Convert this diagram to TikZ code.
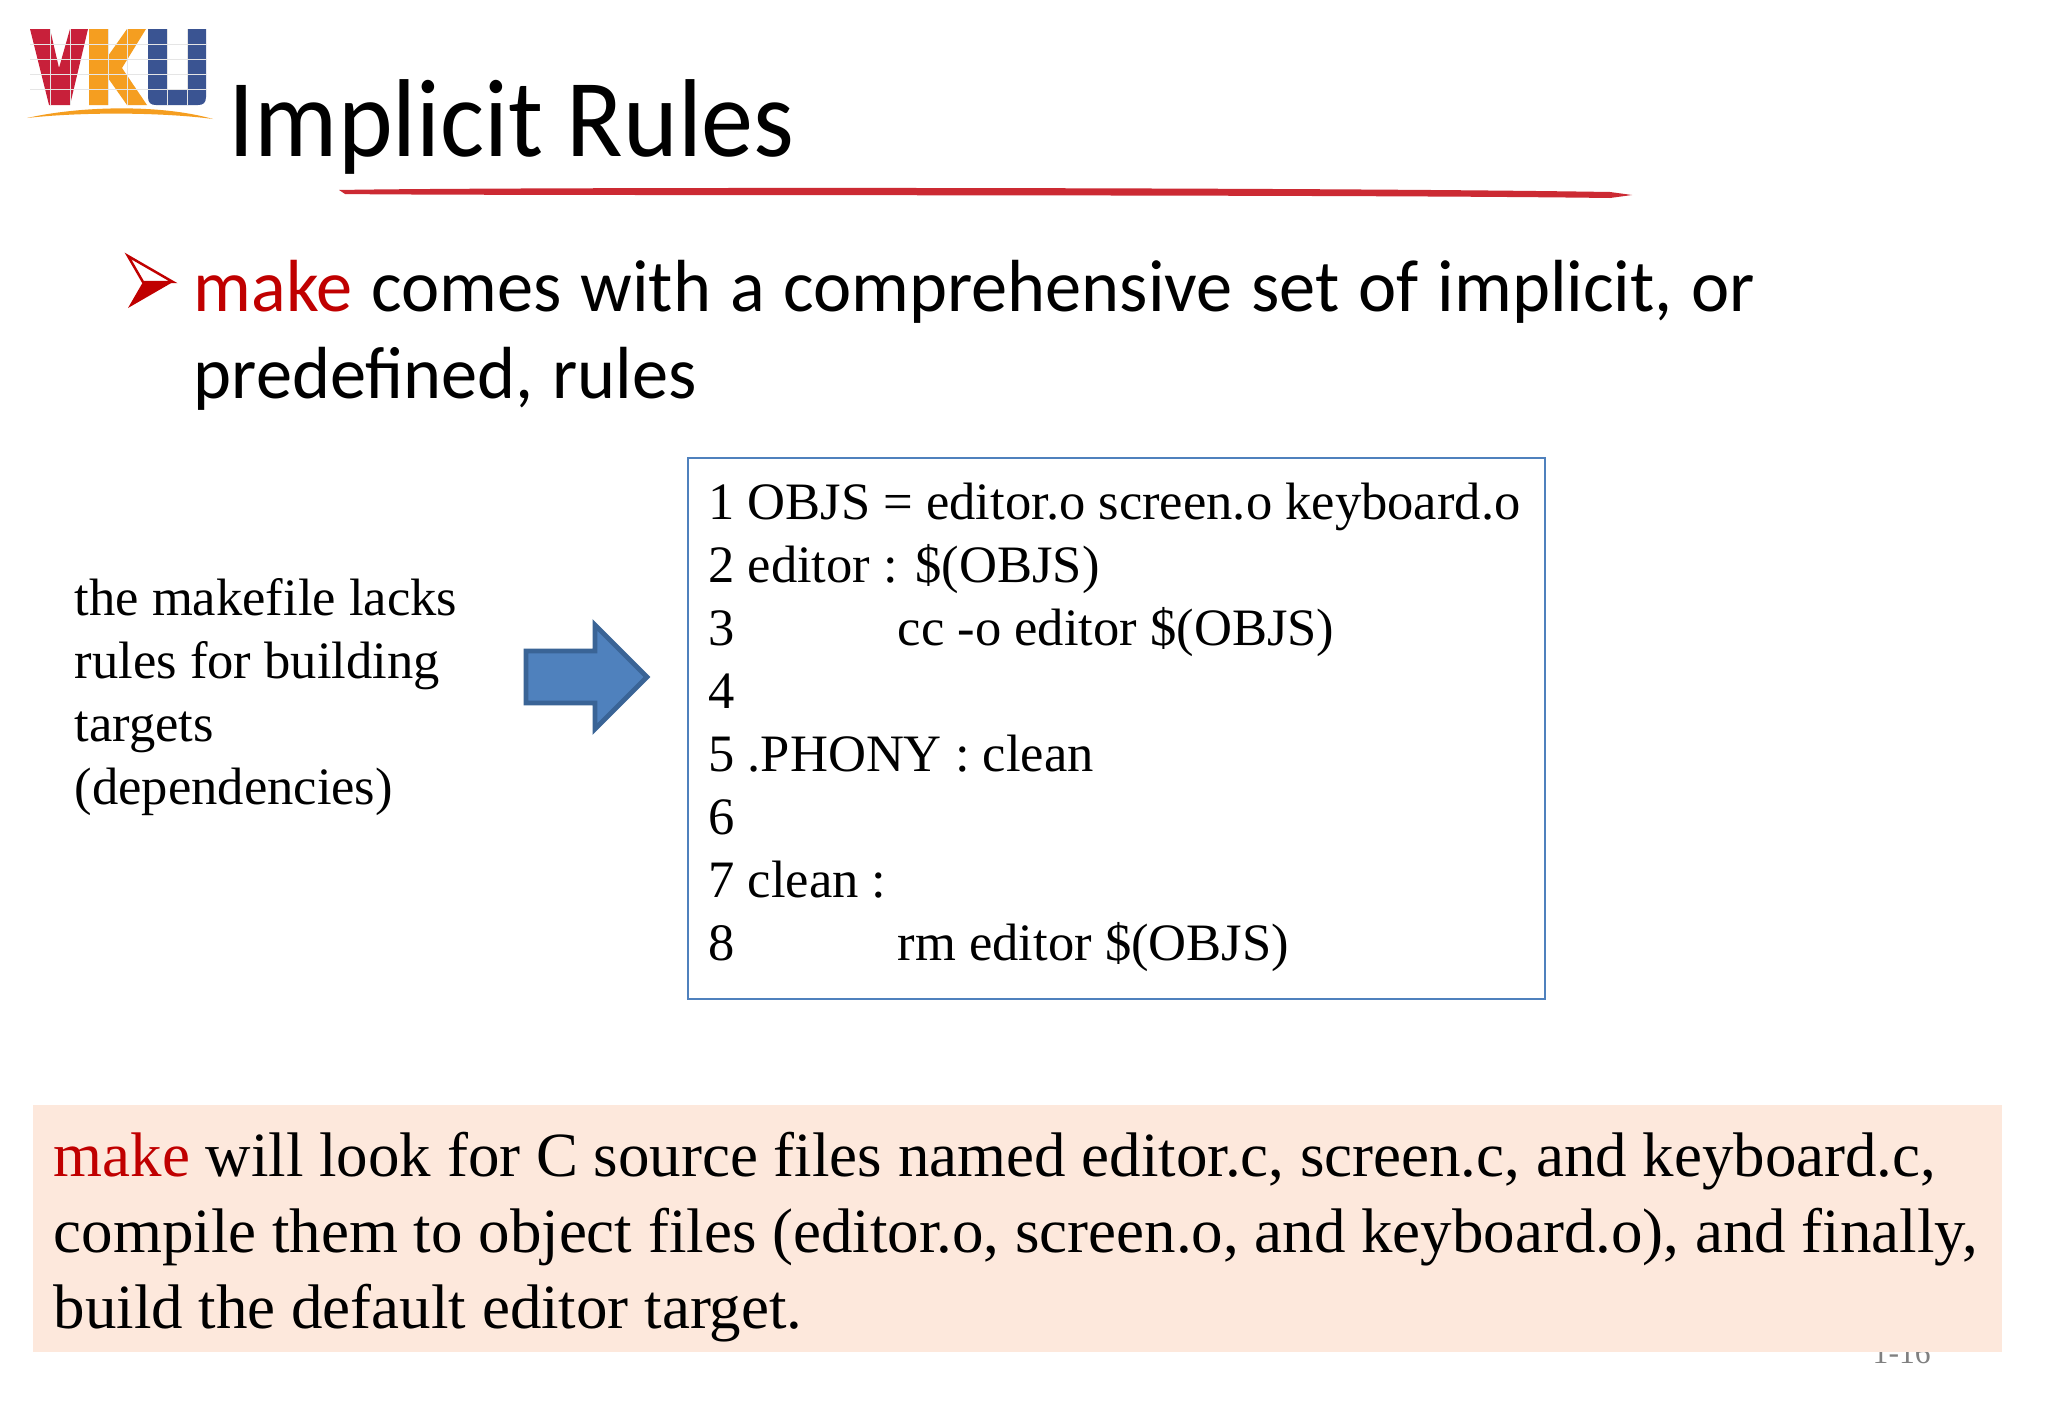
\documentclass[tikz,border=0pt]{standalone}
\usepackage{fontspec}
\setmainfont{Liberation Serif}
\newfontfamily\titlefont[FakeStretch=0.94]{Carlito}
\newfontfamily\gillfont[FakeStretch=0.98,WordSpace=1.15]{Carlito}
\definecolor{makered}{HTML}{C00000}
\definecolor{linered}{HTML}{CC2A33}
\definecolor{vkured}{HTML}{C8203A}
\definecolor{vkuorange}{HTML}{F59E20}
\definecolor{vkublue}{HTML}{3A5492}
\definecolor{boxblue}{HTML}{4F81BD}
\definecolor{arrowedge}{HTML}{3A6496}
\definecolor{notepink}{HTML}{FDE8DC}
\tikzset{
  title/.style = {anchor=base west, inner sep=0pt, font=\titlefont\fontsize{31.5}{32}\selectfont},
  bullet/.style = {anchor=base west, inner sep=0pt, font=\gillfont\fontsize{21}{21}\selectfont},
  code/.style = {anchor=base west, inner sep=0pt, font=\fontsize{14.95}{15}\selectfont},
  note/.style = {anchor=base west, inner sep=0pt, font=\fontsize{17.9}{18}\selectfont},
  grid line/.style = {white!80!gray, line width=0.15pt}
}

\begin{document}
\begin{tikzpicture}[x=0.01cm, y=-0.01cm]
	\def \pitch{63}
	\def \first{519}
	\def \num{708}
	\def \txt{747}
	\def \tab{897}
	
	\useasboundingbox (0,0) rectangle (2048,1418);
	\fill[white] (0,0) rectangle (2048,1418);
	
	% Logo
	\fill[vkured] (30,29) -- (50,29) -- (59,68) -- (70,29) -- (88,29) -- (70,105) -- (49,105) -- cycle;
	\fill[vkuorange] (89,29) -- (108,29) -- (108,56) -- (127,29) -- (146,29) -- (122,68) -- (147,105) -- (127,105) -- (108,78) -- (108,105) -- (89,105) -- cycle;
	\fill[vkublue] (148,29) -- (167,29) -- (167,90) -- (187,90) -- (187,29) -- (206,29) -- (206,97) .. controls (206,103) and (203,105) .. (198,105) -- (156,105) .. controls (151,105) and (148,103) .. (148,97) -- cycle;
	\foreach \y in {44,59,74,89}
		\draw[grid line] (30,\y) -- (206,\y);
	\foreach \x in {50,70,108,127,167,187}
		\draw[grid line] (\x,29) -- (\x,105);
	\fill[vkuorange] (27,118) .. controls (80,106) and (160,104) .. (213,119) .. controls (160,112) and (80,112) .. (27,118) -- cycle;
	
	% Title
	\node[title] (title) at (228,156) {Implicit Rules};
	\fill[linered] (339,190) .. controls (500,187) and (1300,187) .. (1610,192) -- (1632,195) -- (1610,198) .. controls (1300,194) and (500,196) .. (345,194) -- cycle;
	
	% Bullet
	\fill[makered] (128,308) -- (143,282) -- (173,282) -- cycle;
	\draw[makered, line width=0.7pt, fill=white, line join=miter] (128,256) -- (173,282) -- (143,282) -- cycle;
	\node[bullet] (line_a) at (193,311) {\textcolor{makered}{make} comes with a comprehensive set of implicit, or};
	\node[bullet] (line_b) at (193,398) {predefined, rules};
	
	% Left text
	\node[code] (left_a) at (74,615) {the makefile lacks};
	\node[code] (left_b) at (74,678) {rules for building};
	\node[code] (left_c) at (74,741) {targets};
	\node[code] (left_d) at (74,804) {(dependencies)};
	
	% Arrow
	\draw[fill=boxblue, draw=arrowedge, line width=1.4pt, miter limit=4] (526,651) -- (595,651) -- (595,625) -- (647,677) -- (595,729) -- (595,703) -- (526,703) -- cycle;
	
	% Code box
	\draw[boxblue, line width=0.5pt] (688,458) rectangle (1545,999);
	\foreach \n in {1,...,8}
		\node[code] (num\n) at (\num,\first+\n*\pitch-\pitch) {\n};
	\node[code] (code1) at (\txt,\first) {OBJS = editor.o screen.o keyboard.o};
	\node[code] (code2) at (\txt,\first+1*\pitch) {editor : \$(OBJS)};
	\node[code] (code3) at (\tab,\first+2*\pitch) {cc -o editor \$(OBJS)};
	\node[code] (code5) at (\txt,\first+4*\pitch) {.PHONY : clean};
	\node[code] (code7) at (\txt,\first+6*\pitch) {clean :};
	\node[code] (code8) at (\tab,\first+7*\pitch) {rm editor \$(OBJS)};
	
	% Page number, then the note over it
	\node[anchor=base west, inner sep=0pt, text=black!50!white, font=\fontsize{9}{9}\selectfont] (page) at (1872,1363) {1-16};
	\fill[notepink] (33,1105) rectangle (2002,1352);
	\node[note] (note_a) at (53,1176) {\textcolor{makered}{make} will look for C source files named editor.c, screen.c, and keyboard.c,};
	\node[note] (note_b) at (53,1252) {compile them to object files (editor.o, screen.o, and keyboard.o), and finally,};
	\node[note] (note_c) at (53,1328) {build the default editor target.};
	
\end{tikzpicture}
\end{document}
